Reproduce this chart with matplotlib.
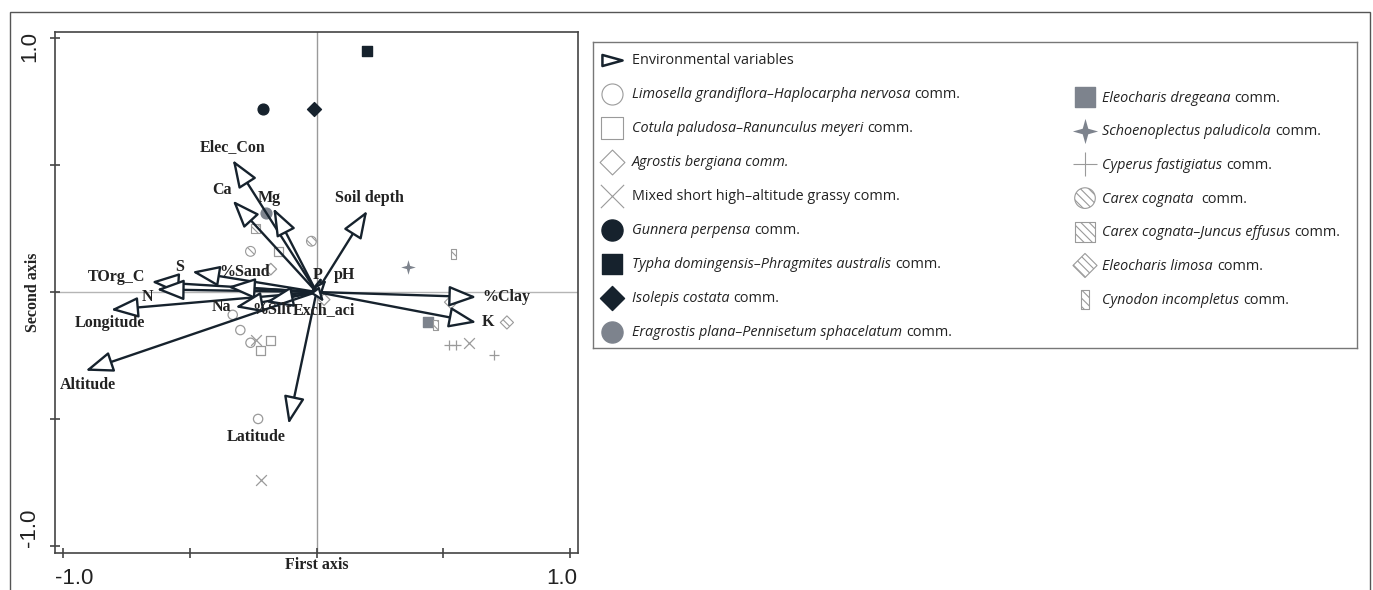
import matplotlib
matplotlib.use('Agg')
import matplotlib.pyplot as plt
import numpy as np
from matplotlib.path import Path
from matplotlib.patches import Rectangle
from matplotlib.offsetbox import TextArea, HPacker, AnnotationBbox

plt.rcParams['hatch.color'] = '#8a8f98'
plt.rcParams['hatch.linewidth'] = 0.8

DARK = '#16222d'
GREY = '#7d838d'
LIGHT = '#9a9a9a'

# environmental variables (arrow tips)
env_names = ['Elec_Con', 'Ca', 'Mg', 'Soil depth', 'S', 'TOrg_C', 'N', '%Sand', 'Longitude',
             'Na', '%Silt', 'Altitude', 'Latitude', '%Clay', 'K', 'P', 'pH', 'Exch_aci']
env_x = [-0.33, -0.33, -0.17, 0.20, -0.49, -0.65, -0.63, -0.35, -0.81,
         -0.32, -0.20, -0.91, -0.11, 0.63, 0.63, 0.02, 0.04, 0.03]
env_y = [0.52, 0.36, 0.33, 0.32, 0.08, 0.04, 0.01, 0.02, -0.07,
         -0.06, -0.04, -0.31, -0.52, -0.02, -0.12, 0.06, 0.05, -0.04]

# site scores per community
limosella_x = [-0.33, -0.30, -0.26, -0.23]
limosella_y = [-0.09, -0.15, -0.20, -0.50]
cotula_x = [-0.15, -0.18, -0.22]
cotula_y = [0.16, -0.19, -0.23]
agrostis_x = [-0.18, 0.03]
agrostis_y = [0.09, -0.03]
mixed_x = [0.60, -0.24, -0.22]
mixed_y = [-0.20, -0.19, -0.74]
gunnera_x, gunnera_y = [-0.21], [0.72]
typha_x, typha_y = [0.20], [0.95]
isolepis_x, isolepis_y = [-0.01], [0.72]
eragrostis_x, eragrostis_y = [-0.20], [0.31]
eleo_dreg_x, eleo_dreg_y = [0.44], [-0.12]
schoeno_x, schoeno_y = [0.36], [0.10]
cyperus_x = [0.52, 0.55, 0.70]
cyperus_y = [-0.21, -0.21, -0.25]
carex_x = [-0.26, -0.02]
carex_y = [0.16, 0.20]
carex_junc_x, carex_junc_y = [-0.24], [0.25]
eleo_lim_x = [0.53, 0.75]
eleo_lim_y = [-0.04, -0.12]
cynodon_x = [0.54, 0.47]
cynodon_y = [0.15, -0.13]

xtick_vals = [-1.0, -0.5, 0.0, 0.5, 1.0]
ytick_vals = [-1.0, -0.5, 0.0, 0.5, 1.0]

# custom marker shapes
star4 = Path([(0, 1), (0.22, 0.22), (1, 0), (0.22, -0.22), (0, -1), (-0.22, -0.22),
              (-1, 0), (-0.22, 0.22), (0, 1)], closed=True)
narrow = Path([(-0.45, -1), (0.45, -1), (0.45, 1), (-0.45, 1), (-0.45, -1)], closed=True)
tri_r = Path([(-1, -0.55), (1, 0), (-1, 0.55), (-1, -0.55)], closed=True)

W, H = 1373, 590
fig = plt.figure(figsize=(W / 100, H / 100), dpi=100)

# outer frame
fig.patches.append(Rectangle((10 / W, -0.1), 1360 / W, 1.1 - 12 / H, transform=fig.transFigure,
                             fill=False, ec='#555555', lw=1))

ax = fig.add_axes([55 / W, (H - 553) / H, 523 / W, 521 / H])
ax.set_xlim(-1.03, 1.03)
ax.set_ylim(-1.028, 1.024)
ax.axhline(0, color='#b5b5b5', lw=1, zorder=1)
ax.axvline(0, color='#9a9a9a', lw=1, zorder=1)
for s in ax.spines.values():
    s.set_color('#444444')
    s.set_linewidth(1.2)
ax.set_xticks(xtick_vals)
ax.set_yticks(ytick_vals)
ax.set_xticklabels([])
ax.set_yticklabels([])
ax.tick_params(direction='inout', length=7, width=1.2, color='#444444')

tfont = dict(family='Liberation Sans', size=16, color='#222222')
ax.text(-0.953, -0.048, '-1.0', transform=ax.get_xaxis_transform(), ha='center', va='center', **tfont)
ax.text(0.965, -0.048, '1.0', transform=ax.get_xaxis_transform(), ha='center', va='center', **tfont)
ax.text(-0.048, 0.965, '1.0', transform=ax.get_yaxis_transform(), ha='center', va='center', rotation=90, **tfont)
ax.text(-0.048, -0.93, '-1.0', transform=ax.get_yaxis_transform(), ha='center', va='center', rotation=90, **tfont)

lfont = dict(family='Liberation Serif', weight='bold', size=11.5, color='#222222')
ax.text(0.0, -0.023, 'First axis', transform=ax.get_xaxis_transform(), ha='center', va='center', **lfont)
ax.text(-0.043, 0.0, 'Second axis', transform=ax.get_yaxis_transform(), ha='center', va='center', rotation=90, **lfont)

# sample points
ax.scatter(limosella_x, limosella_y, s=45, marker='o', facecolor='none', edgecolor=LIGHT, lw=0.9, zorder=2)
ax.scatter(cotula_x, cotula_y, s=45, marker='s', facecolor='none', edgecolor=LIGHT, lw=0.9, zorder=2)
ax.scatter(agrostis_x, agrostis_y, s=35, marker='D', facecolor='none', edgecolor=LIGHT, lw=0.9, zorder=2)
ax.scatter(mixed_x, mixed_y, s=60, marker='x', color=LIGHT, lw=0.9, zorder=2)
ax.scatter(gunnera_x, gunnera_y, s=60, marker='o', color=DARK, zorder=2)
ax.scatter(typha_x, typha_y, s=55, marker='s', color=DARK, zorder=2)
ax.scatter(isolepis_x, isolepis_y, s=50, marker='D', color=DARK, zorder=2)
ax.scatter(eragrostis_x, eragrostis_y, s=60, marker='o', color=GREY, zorder=2)
ax.scatter(eleo_dreg_x, eleo_dreg_y, s=50, marker='s', color=GREY, zorder=2)
ax.scatter(schoeno_x, schoeno_y, s=110, marker=star4, color=GREY, lw=0, zorder=2)
ax.scatter(cyperus_x, cyperus_y, s=60, marker='+', color=LIGHT, lw=0.9, zorder=2)
ax.scatter(carex_x, carex_y, s=50, marker='o', facecolor='white', edgecolor=LIGHT, hatch='\\\\\\\\', lw=0.8, zorder=2)
ax.scatter(carex_junc_x, carex_junc_y, s=45, marker='s', facecolor='white', edgecolor=LIGHT, hatch='\\\\\\\\', lw=0.8, zorder=2)
ax.scatter(eleo_lim_x, eleo_lim_y, s=45, marker='D', facecolor='white', edgecolor=LIGHT, hatch='\\\\\\\\', lw=0.8, zorder=2)
ax.scatter(cynodon_x, cynodon_y, s=60, marker=narrow, facecolor='white', edgecolor=LIGHT, hatch='\\\\\\\\', lw=0.8, zorder=2)

# arrows
for name, x, y in zip(env_names, env_x, env_y):
    small = np.hypot(x, y) < 0.1
    ax.annotate('', xy=(x, y), xytext=(0, 0),
                arrowprops=dict(arrowstyle='-|>,head_length=1.0,head_width=0.38',
                                mutation_scale=8 if small else 17, lw=1.7,
                                ec=DARK, fc='white', shrinkA=0, shrinkB=0),
                zorder=4)

label_pos = {
    'Elec_Con': (-0.33, 0.57, 'center'), 'Ca': (-0.374, 0.40, 'center'),
    'Mg': (-0.185, 0.37, 'center'), 'Soil depth': (0.209, 0.37, 'center'),
    'S': (-0.54, 0.10, 'center'), 'TOrg_C': (-0.787, 0.06, 'center'),
    'N': (-0.665, -0.02, 'center'), '%Sand': (-0.283, 0.08, 'center'),
    'Longitude': (-0.815, -0.122, 'center'), 'Na': (-0.374, -0.06, 'center'),
    '%Silt': (-0.177, -0.07, 'center'), 'Altitude': (-0.90, -0.366, 'center'),
    'Latitude': (-0.236, -0.571, 'center'), '%Clay': (0.655, -0.02, 'left'),
    'K': (0.65, -0.118, 'left'), 'P': (0.004, 0.067, 'center'),
    'pH': (0.11, 0.067, 'center'), 'Exch_aci': (0.03, -0.07, 'center'),
}
for name in env_names:
    lx, ly, ha = label_pos[name]
    ax.text(lx, ly, name, ha=ha, va='center', zorder=5, **lfont)

# legend panel
lx0, ly0, lx1, ly1 = 593, 42, 1357, 348
lax = fig.add_axes([lx0 / W, (H - ly1) / H, (lx1 - lx0) / W, (ly1 - ly0) / H])
lax.set_xlim(lx0, lx1)
lax.set_ylim(ly1, ly0)
lax.set_xticks([])
lax.set_yticks([])
for s in lax.spines.values():
    s.set_color('#777777')
    s.set_linewidth(1)

left_entries = [
    (tri_r, dict(s=210, facecolor='white', edgecolor=DARK, lw=1.8), None, 'Environmental variables'),
    ('o', dict(s=230, facecolor='white', edgecolor=LIGHT, lw=0.8), 'Limosella grandiflora–Haplocarpha nervosa', 'comm.'),
    ('s', dict(s=230, facecolor='white', edgecolor=LIGHT, lw=0.8), 'Cotula paludosa–Ranunculus meyeri', 'comm.'),
    ('D', dict(s=160, facecolor='white', edgecolor=LIGHT, lw=0.8), 'Agrostis bergiana comm.', None),
    ('x', dict(s=280, color=LIGHT, lw=0.8), None, 'Mixed short high–altitude grassy comm.'),
    ('o', dict(s=230, color=DARK), 'Gunnera perpensa', 'comm.'),
    ('s', dict(s=220, color=DARK), 'Typha domingensis–Phragmites australis', 'comm.'),
    ('D', dict(s=150, color=DARK), 'Isolepis costata', 'comm.'),
    ('o', dict(s=230, color=GREY), 'Eragrostis plana–Pennisetum sphacelatum', 'comm.'),
]
right_entries = [
    ('s', dict(s=220, color=GREY), 'Eleocharis dregeana', 'comm.'),
    (star4, dict(s=330, color=GREY, lw=0), 'Schoenoplectus paludicola', 'comm.'),
    ('+', dict(s=300, color=LIGHT, lw=0.8), 'Cyperus fastigiatus', 'comm.'),
    ('o', dict(s=220, facecolor='white', edgecolor=LIGHT, hatch='\\\\\\\\', lw=0.8), 'Carex cognata ', 'comm.'),
    ('s', dict(s=210, facecolor='white', edgecolor=LIGHT, hatch='\\\\\\\\', lw=0.8), 'Carex cognata–Juncus effusus', 'comm.'),
    ('D', dict(s=150, facecolor='white', edgecolor=LIGHT, hatch='\\\\\\\\', lw=0.8), 'Eleocharis limosa', 'comm.'),
    (narrow, dict(s=190, facecolor='white', edgecolor=LIGHT, hatch='\\\\\\\\', lw=0.8), 'Cynodon incompletus', 'comm.'),
]

txt = dict(family='Open Sans', size=10.4, color='#222222')


def add_row(mx, tx, y, marker, kw, ital, plain):
    lax.scatter([mx], [y], marker=marker, clip_on=False, **kw)
    parts = []
    if ital:
        parts.append(TextArea(ital, textprops=dict(style='italic', **txt)))
    if plain:
        parts.append(TextArea(plain, textprops=txt))
    box = HPacker(children=parts, align='baseline', pad=0, sep=3)
    ab = AnnotationBbox(box, (tx, y + 1), xycoords='data', box_alignment=(0, 0.5),
                        frameon=False, pad=0)
    lax.add_artist(ab)


for i, (m, kw, ital, plain) in enumerate(left_entries):
    add_row(612, 632, 60 + 34 * i, m, kw, ital, plain)
for i, (m, kw, ital, plain) in enumerate(right_entries):
    add_row(1085, 1102, 97 + 33.7 * i, m, kw, ital, plain)

fig.savefig('out.png', dpi=100, facecolor='white')
